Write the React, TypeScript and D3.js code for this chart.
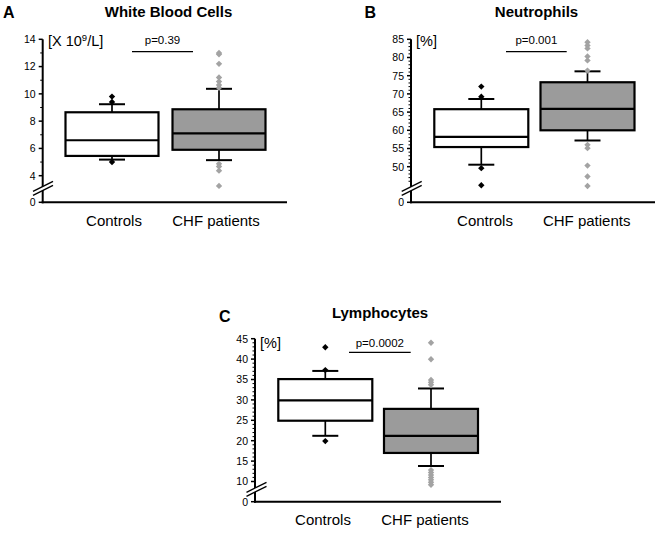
import React from "react";
import * as d3 from "d3";

// ---------- data ----------
const categories = ["Controls", "CHF patients"];

// box arrays: [lower whisker, Q1, median, Q3, upper whisker]
const wbcTicks = [4, 6, 8, 10, 12, 14];
const wbcBoxControls = [5.18, 5.45, 6.6, 8.65, 9.24];
const wbcBoxChf = [5.14, 5.9, 7.1, 8.87, 10.37];
const wbcOutControls = [9.8, 9.4, 5.0];
const wbcOutChf = [13.0, 12.9, 12.2, 11.2, 10.9, 10.65, 10.45, 4.87, 4.67, 4.37, 3.25];

const neuTicks = [50, 55, 60, 65, 70, 75, 80, 85];
const neuBoxControls = [50.55, 55.4, 58.2, 65.8, 68.6];
const neuBoxChf = [57.2, 60.0, 65.9, 73.2, 76.2];
const neuOutControls = [72.0, 69.2, 49.6, 44.9];
const neuOutChf = [84.2, 83.3, 82.5, 80.3, 79.2, 76.4, 56.0, 55.1, 50.3, 47.3, 44.7];

const lymTicks = [10, 15, 20, 25, 30, 35, 40, 45];
const lymBoxControls = [21.2, 24.9, 29.9, 35.1, 37.1];
const lymBoxChf = [13.8, 17.0, 21.2, 27.8, 32.8];
const lymOutControls = [42.9, 37.3, 19.9];
const lymOutChf = [44.0, 39.95, 34.9, 34.3, 33.7, 12.8, 12.2, 11.6, 11.0, 10.4, 9.8, 9.2];

// ---------- layout ----------
const FONT = "'Liberation Sans', Arial, sans-serif";
const FILL_GRAY = "#9b9b9b";
const DOT_GRAY = "#a3a3a3";

type PanelCfg = {
  letter: string;
  title: string;
  unit: React.ReactNode;
  pText: string;
  ticks: number[];
  minorStep: number;
  minorStart: number;
  boxes: number[][];
  outliers: number[][];
  axisX: number;
  yTopPx: number;
  yLowPx: number;
  y0Px: number;
  xEnd: number;
  centers: number[];
  boxW: number;
  letterXY: [number, number];
  titleXY: [number, number];
  unitXY: [number, number];
  pLine: [number, number, number];
  pTextY: number;
  labelXs: number[];
  labelY: number;
  breakXY: [number, number];
};

const panels: PanelCfg[] = [
  {
    letter: "A",
    title: "White Blood Cells",
    unit: (
      <>
        [X 10<tspan dy={-5} fontSize={9.5}>9</tspan>
        <tspan dy={5}>/L]</tspan>
      </>
    ),
    pText: "p=0.39",
    ticks: wbcTicks,
    minorStep: 1,
    minorStart: 4,
    boxes: [wbcBoxControls, wbcBoxChf],
    outliers: [wbcOutControls, wbcOutChf],
    axisX: 42.7,
    yTopPx: 39.3,
    yLowPx: 175.7,
    y0Px: 202.3,
    xEnd: 287,
    centers: [112, 219],
    boxW: 93,
    letterXY: [3, 18],
    titleXY: [168.5, 17.3],
    unitXY: [48, 45.5],
    pLine: [132, 193, 51.7],
    pTextY: 44,
    labelXs: [114, 216],
    labelY: 226,
    breakXY: [43, 188.3],
  },
  {
    letter: "B",
    title: "Neutrophils",
    unit: "[%]",
    pText: "p=0.001",
    ticks: neuTicks,
    minorStep: 1,
    minorStart: 46,
    boxes: [neuBoxControls, neuBoxChf],
    outliers: [neuOutControls, neuOutChf],
    axisX: 411,
    yTopPx: 39.3,
    yLowPx: 166.7,
    y0Px: 202.3,
    xEnd: 655,
    centers: [481.3, 587.5],
    boxW: 94,
    letterXY: [364.5, 18],
    titleXY: [536.5, 17.3],
    unitXY: [416, 45.5],
    pLine: [506, 566.7, 51.7],
    pTextY: 44,
    labelXs: [485, 586.7],
    labelY: 226,
    breakXY: [411.7, 188.3],
  },
  {
    letter: "C",
    title: "Lymphocytes",
    unit: "[%]",
    pText: "p=0.0002",
    ticks: lymTicks,
    minorStep: 1,
    minorStart: 10,
    boxes: [lymBoxControls, lymBoxChf],
    outliers: [lymOutControls, lymOutChf],
    axisX: 255,
    yTopPx: 338.7,
    yLowPx: 481.5,
    y0Px: 501.7,
    xEnd: 501,
    centers: [325.3, 431],
    boxW: 94,
    letterXY: [219, 321.5],
    titleXY: [380, 318],
    unitXY: [260, 348],
    pLine: [349, 410.7, 352.3],
    pTextY: 346.7,
    labelXs: [323, 425],
    labelY: 525,
    breakXY: [256.5, 489.3],
  },
];

const diamond = d3.symbol().type(d3.symbolDiamond2).size(26)() as string;

function Panel({ cfg }: { cfg: PanelCfg }) {
  const lowT = cfg.ticks[0];
  const topT = cfg.ticks[cfg.ticks.length - 1];
  const y = d3.scaleLinear().domain([lowT, topT]).range([cfg.yLowPx, cfg.yTopPx]);
  const minor = d3.range(cfg.minorStart, topT, cfg.minorStep).filter((v) => !cfg.ticks.includes(v));
  const [bx, by] = cfg.breakXY;
  const colors = ["#ffffff", FILL_GRAY];
  const dotColors = ["#000000", DOT_GRAY];
  return (
    <g>
      <text x={cfg.letterXY[0]} y={cfg.letterXY[1]} fontFamily={FONT} fontWeight="bold" fontSize={16}>
        {cfg.letter}
      </text>
      <text x={cfg.titleXY[0]} y={cfg.titleXY[1]} fontFamily={FONT} fontWeight="bold" fontSize={15} textAnchor="middle">
        {cfg.title}
      </text>
      {/* axes */}
      <line x1={cfg.axisX} x2={cfg.axisX} y1={cfg.y0Px + 1} y2={cfg.yTopPx} stroke="#000" strokeWidth={2} />
      <line x1={cfg.axisX - 1} x2={cfg.xEnd} y1={cfg.y0Px} y2={cfg.y0Px} stroke="#000" strokeWidth={2} />
      {cfg.ticks.map((t) => (
        <g key={"t" + t}>
          <line x1={cfg.axisX - 4} x2={cfg.axisX} y1={y(t)} y2={y(t)} stroke="#000" strokeWidth={1.5} />
          <text x={cfg.axisX - 7} y={y(t) + 3.8} fontFamily={FONT} fontSize={10.5} textAnchor="end">
            {t}
          </text>
        </g>
      ))}
      {minor.map((t) => (
        <line key={"m" + t} x1={cfg.axisX - 2.5} x2={cfg.axisX} y1={y(t)} y2={y(t)} stroke="#000" strokeWidth={1} />
      ))}
      <line x1={cfg.axisX - 4} x2={cfg.axisX} y1={cfg.y0Px} y2={cfg.y0Px} stroke="#000" strokeWidth={1.5} />
      <text x={cfg.axisX - 7} y={cfg.y0Px + 3.8} fontFamily={FONT} fontSize={10.5} textAnchor="end">
        0
      </text>
      {/* break */}
      <polygon
        points={`${bx - 10},${by + 3} ${bx + 10},${by - 7} ${bx + 10},${by - 3} ${bx - 10},${by + 7}`}
        fill="#fff"
      />
      <line x1={bx - 10} y1={by + 3} x2={bx + 10} y2={by - 7} stroke="#000" strokeWidth={1.3} />
      <line x1={bx - 10} y1={by + 7} x2={bx + 10} y2={by - 3} stroke="#000" strokeWidth={1.3} />
      {/* unit */}
      <text x={cfg.unitXY[0]} y={cfg.unitXY[1]} fontFamily={FONT} fontSize={14.5}>
        {cfg.unit}
      </text>
      {/* p value */}
      <text x={(cfg.pLine[0] + cfg.pLine[1]) / 2} y={cfg.pTextY} fontFamily={FONT} fontSize={11.5} textAnchor="middle">
        {cfg.pText}
      </text>
      <line x1={cfg.pLine[0]} x2={cfg.pLine[1]} y1={cfg.pLine[2]} y2={cfg.pLine[2]} stroke="#000" strokeWidth={1.2} />
      {/* boxes */}
      {cfg.boxes.map((b, i) => {
        const cx = cfg.centers[i];
        const w = cfg.boxW;
        const capW = 26;
        return (
          <g key={"b" + i}>
            <line x1={cx} x2={cx} y1={y(b[0])} y2={y(b[1])} stroke="#000" strokeWidth={1.7} />
            <line x1={cx} x2={cx} y1={y(b[3])} y2={y(b[4])} stroke="#000" strokeWidth={1.7} />
            <line x1={cx - capW / 2} x2={cx + capW / 2} y1={y(b[0])} y2={y(b[0])} stroke="#000" strokeWidth={2} />
            <line x1={cx - capW / 2} x2={cx + capW / 2} y1={y(b[4])} y2={y(b[4])} stroke="#000" strokeWidth={2} />
            <rect x={cx - w / 2} y={y(b[3])} width={w} height={y(b[1]) - y(b[3])} fill={colors[i]} stroke="#000" strokeWidth={2.2} />
            <line x1={cx - w / 2} x2={cx + w / 2} y1={y(b[2])} y2={y(b[2])} stroke="#000" strokeWidth={2.2} />
            {cfg.outliers[i].map((v, j) => (
              <path key={"o" + j} d={diamond} transform={`translate(${cx},${y(v)})`} fill={dotColors[i]} />
            ))}
          </g>
        );
      })}
      {categories.map((c, i) => (
        <text key={c} x={cfg.labelXs[i]} y={cfg.labelY} fontFamily={FONT} fontSize={15} textAnchor="middle">
          {c}
        </text>
      ))}
    </g>
  );
}

export default function App() {
  return (
    <svg
      width={661}
      height={533}
      viewBox="0 0 661 533"
      style={{ position: "absolute", left: 0, top: 0, background: "#fff" }}
    >
      <rect x={0} y={0} width={661} height={533} fill="#fff" />
      {panels.map((p) => (
        <Panel key={p.letter} cfg={p} />
      ))}
    </svg>
  );
}
